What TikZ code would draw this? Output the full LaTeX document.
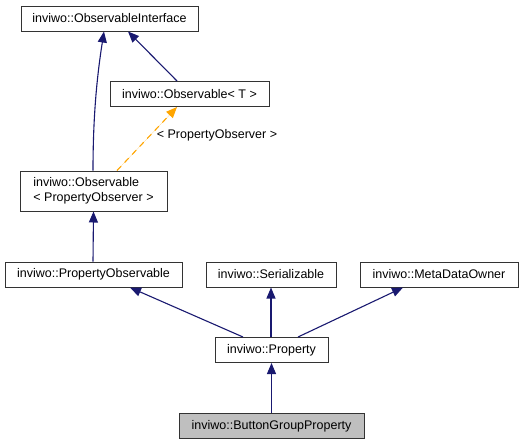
\documentclass[tikz,border=0pt]{standalone}
\usepackage{fontspec}
\setmainfont{Liberation Sans}
\usetikzlibrary{arrows.meta, positioning}

\definecolor{edgeblue}{HTML}{191970}
\definecolor{tmplorange}{HTML}{FFA500}
\definecolor{boxgray}{HTML}{BFBFBF}

\tikzset{
  classbox/.style={draw=black!80, fill=white, rectangle, inner sep=2pt, line width=1pt,
    font=\fontsize{12.5}{15}\selectfont, minimum height=25pt},
  inherit/.style={draw=edgeblue, line width=1.1pt, -{Triangle[width=9pt,length=11pt]}},
  tmpl/.style={draw=tmplorange, line width=1.1pt, dash pattern=on 6pt off 5pt,
    -{Triangle[width=9pt,length=11pt]}, fill=tmplorange}
}

\begin{document}
\begin{tikzpicture}[x=1pt, y=-1pt]
  \useasboundingbox (0,0) rectangle (525,445);

  % top part of the hierarchy
  \node[classbox, minimum width=177pt] (iface) at (109.5,18.5) {inviwo::ObservableInterface};
  \node[classbox, minimum width=159pt] (obsT) at (189.5,94) {inviwo::Observable< T >};
  \node[classbox, minimum width=147pt, minimum height=40pt, align=left] (obsPO) at (93.5,191)
    {inviwo::Observable\\< PropertyObserver >};

  % middle row
  \node[classbox, minimum width=177pt] (propobs) at (93.5,274.5) {inviwo::PropertyObservable};
  \node[classbox, minimum width=130pt] (serial) at (271,274.5) {inviwo::Serializable};
  \node[classbox, minimum width=158pt] (meta) at (439,274.5) {inviwo::MetaDataOwner};

  % bottom
  \node[classbox, minimum width=113pt] (prop) at (271.5,350) {inviwo::Property};
  \node[classbox, minimum width=185pt, fill=boxgray] (btn) at (271.5,426) {inviwo::ButtonGroupProperty};

  % edges
  \draw[inherit] ([xshift=-0.5pt]obsPO.north) .. controls (93,110) and (98,70) .. ([xshift=-5.5pt]iface.south);
  \draw[inherit] ([xshift=-12.5pt]obsT.north) -- ([xshift=18.5pt]iface.south);
  \draw[tmpl] ([xshift=23.5pt]obsPO.north) -- ([xshift=-12.5pt]obsT.south)
    node[pos=0.55, right=3pt, font=\fontsize{12.5}{15}\selectfont, text=black] {< PropertyObserver >};
  \draw[inherit] ([xshift=-0.5pt]propobs.north) -- (obsPO.south);
  \draw[inherit] ([xshift=-28.5pt]prop.north) -- ([xshift=36.5pt]propobs.south);
  \draw[inherit] ([xshift=-0.5pt]prop.north) -- (serial.south);
  \draw[inherit] ([xshift=26.5pt]prop.north) -- ([xshift=-36pt]meta.south);
  \draw[inherit] (btn.north) -- (prop.south);
\end{tikzpicture}
\end{document}
